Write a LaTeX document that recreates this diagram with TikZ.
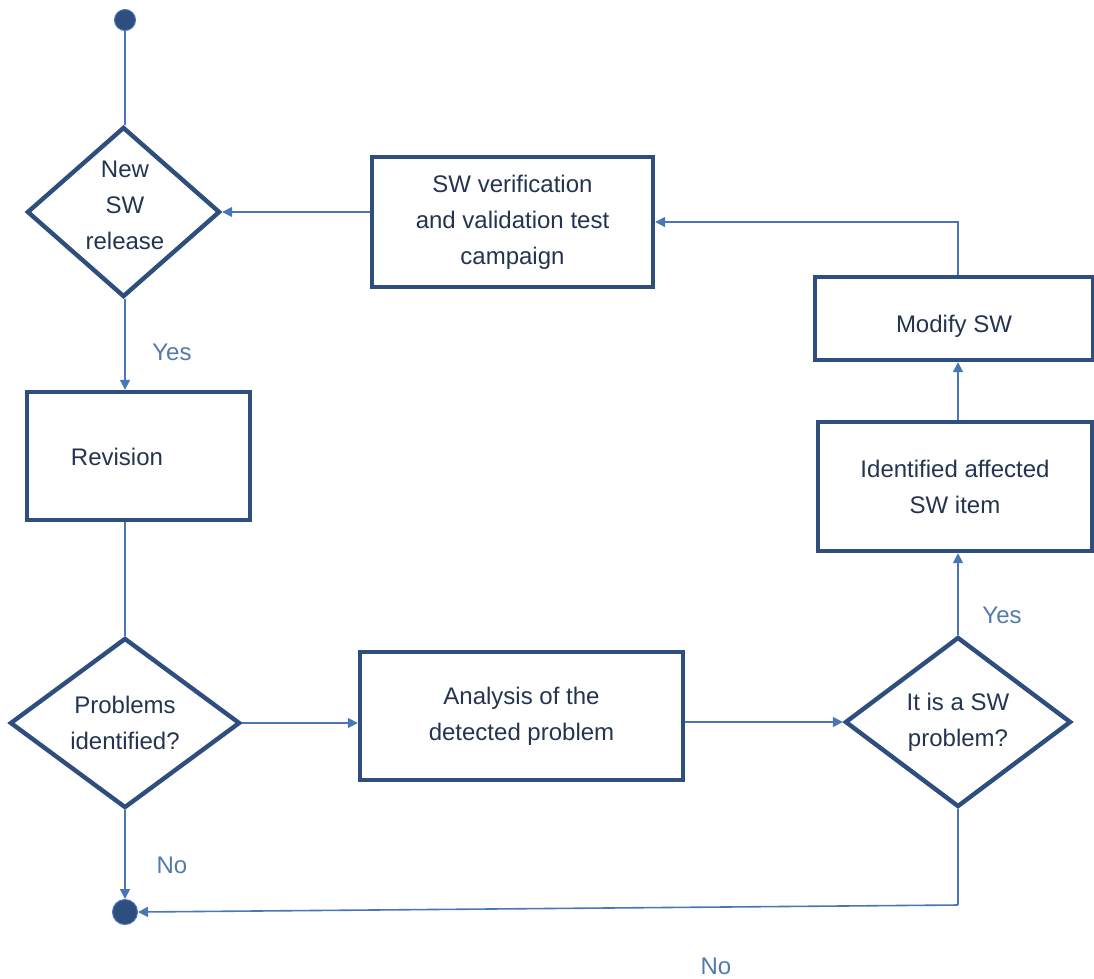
\documentclass[tikz,border=0pt]{standalone}
\usepackage{fontspec}
\setmainfont{Liberation Sans}
\usetikzlibrary{shapes.geometric,arrows.meta}
\definecolor{boxc}{RGB}{46,78,126}
\definecolor{linec}{RGB}{72,118,182}
\definecolor{txtc}{RGB}{36,52,80}
\definecolor{lblc}{RGB}{82,122,176}
\begin{document}
\begin{tikzpicture}[x=1pt,y=-1pt,
  every node/.style={font=\fontsize{24}{36}\selectfont, text=txtc},
  procbox/.style={draw=boxc, line width=4.4pt, align=center, inner sep=0pt},
  decision/.style={diamond, draw=boxc, line width=4.4pt, align=center, inner sep=0pt, aspect=1},
  conn/.style={draw=linec, line width=1.6pt},
  arr/.style={conn, -{Triangle[length=10pt,width=10pt]}},
  lbl/.style={text=lblc},
  dot/.style={circle, fill=boxc, draw=linec, line width=1pt, inner sep=0pt}]
\useasboundingbox (0,0) rectangle (1094,978);
% start / end
\node[dot, minimum size=21pt] (start) at (125,20) {};
\node[dot, minimum size=25pt] (end) at (125,912) {};
% decisions
\node[decision, minimum width=193pt, minimum height=170pt] (rel) at (123.5,212) {};
\node[align=center] (relt) at (125,205) {New\\SW\\release};
\node[decision, minimum width=230pt, minimum height=170pt] (prob) at (125,723) {Problems\\identified?};
\node[decision, minimum width=226pt, minimum height=170pt] (sw) at (958,722) {It is a SW\\problem?};
% boxes
\node[procbox, minimum width=281pt, minimum height=130pt] (vv) at (512.5,222) {SW verification\\and validation test\\campaign};
\node[procbox, minimum width=223pt, minimum height=128pt] (rev) at (138.5,456) {};
\node (revt) at (117,457) {Revision};
\node[procbox, minimum width=278pt, minimum height=83pt] (mod) at (954,318.5) {};
\node (modt) at (954,326) {Modify SW};
\node[procbox, minimum width=274pt, minimum height=129pt] (ident) at (955,486.5) {Identified affected\\SW item};
\node[procbox, minimum width=323pt, minimum height=128pt] (ana) at (521.5,716) {Analysis of the\\detected problem};
% labels
\node[lbl] (yes1) at (172,352) {Yes};
\node[lbl] (yes2) at (1002,615) {Yes};
\node[lbl] (no1) at (172,865) {No};
\node[lbl] (no2) at (716,966) {No};
% connectors
\coordinate (c1) at (958,905);
\coordinate (c2) at (958,222);
\draw[conn] (start) -- (rel.north -| start);
\draw[arr] (rel.south -| start) -- (rev.north -| start);
\draw[conn] (rev.south -| start) -- (prob.north);
\draw[arr] (prob.east) -- (ana.west |- prob.east);
\draw[arr] (ana.east |- sw.west) -- (sw.west);
\draw[arr] (sw.north) -- (ident.south -| c1);
\draw[arr] (ident.north -| c1) -- (mod.south -| c1);
\draw[arr] (mod.north -| c1) -- (c2) -- (vv.east);
\draw[arr] (vv.west |- rel.east) -- (rel.east);
\draw[arr] (prob.south) -- (end.north);
\draw[conn] (sw.south) -- (c1);
\draw[arr] (c1) -- (end.east);
\end{tikzpicture}
\end{document}
